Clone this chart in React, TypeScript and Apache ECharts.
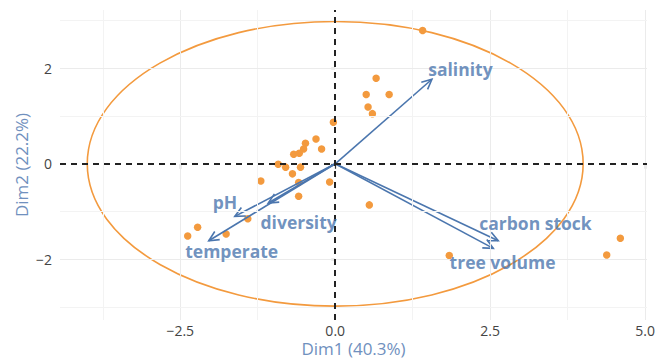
import React, { useEffect, useRef } from "react";
import * as echarts from "echarts";

// Axis ticks and grid positions
const xTicks = [-2.5, 0, 2.5, 5];
const yTicks = [-2, 0, 2];
const xMinorGrid = [-3.75, -1.25, 1.25, 3.75];
const yMinorGrid = [-3, -1, 1, 3];

// Individuals (PCA scores)
const indX = [
  -0.03, -0.31, -0.22, -0.48, -0.51, -0.58, -0.67, -0.92, -0.8, -0.56, -0.69, -1.2, -0.59, -0.09, -0.59,
  0.66, 0.5, 0.87, 0.53, 0.6, 1.41, -1.41, -1.76, -2.22, -2.38, 1.84, 4.38, 4.6, 0.55,
];
const indY = [
  0.87, 0.52, 0.31, 0.43, 0.31, 0.22, 0.2, -0.01, -0.07, -0.07, -0.21, -0.36, -0.39, -0.38, -0.68,
  1.79, 1.45, 1.45, 1.19, 1.05, 2.79, -1.15, -1.47, -1.33, -1.51, -1.92, -1.91, -1.56, -0.86,
];

// Variables (scaled loadings) and their label positions
const variables = ["salinity", "pH", "diversity", "temperate", "carbon stock", "tree volume"];
const arrowX = [1.56, -1.62, -1.08, -2.04, 2.63, 2.55];
const arrowY = [1.77, -1.1, -0.82, -1.61, -1.61, -1.77];
const labelX = [2.02, -1.78, -0.59, -1.67, 3.23, 2.7];
const labelY = [1.99, -0.79, -1.21, -1.82, -1.23, -2.05];

// Concentration ellipse: centre and semi-axes
const ellipseCenter = [0, 0];
const ellipseRadii = [4.0, 2.98];

const ORANGE = "#F39A3E";
const BLUE = "#4B76AE";
const TITLE = "#7090BE";

const fmtMinus = (s: string) => s.replace("-", "\u2212");

export default function App() {
  const ref = useRef<HTMLDivElement>(null);

  useEffect(() => {
    if (!ref.current) return;
    const chart = echarts.init(ref.current, undefined, { renderer: "svg" });

    const gridLines = [
      ...xTicks.filter((v) => v !== 0).map((v) => ({ xAxis: v, lineStyle: { color: "#ebebeb" } })),
      ...xMinorGrid.map((v) => ({ xAxis: v, lineStyle: { color: "#f3f3f3" } })),
      ...yTicks.filter((v) => v !== 0).map((v) => ({ yAxis: v, lineStyle: { color: "#ebebeb" } })),
      ...yMinorGrid.map((v) => ({ yAxis: v, lineStyle: { color: "#f3f3f3" } })),
    ];

    chart.setOption({
      animation: false,
      grid: { left: 60, right: 20, top: 10, bottom: 40, outerBoundsMode: "none", containLabel: false },
      xAxis: {
        type: "value",
        min: -4.44,
        max: 5.03,
        name: "Dim1 (40.3%)",
        nameLocation: "middle",
        nameGap: 20,
        nameMoveOverlap: false,
        nameTextStyle: { color: TITLE, fontSize: 17, fontFamily: "Open Sans" },
        axisLine: { show: false },
        splitLine: { show: false },
        axisTick: {
          show: true,
          customValues: xTicks,
          length: 5,
          lineStyle: { color: "#333", width: 1.2 },
        },
        axisLabel: {
          customValues: xTicks,
          margin: 3,
          color: "#444",
          fontSize: 14,
          fontFamily: "Open Sans",
          formatter: (v: number) => fmtMinus(v.toFixed(1)),
        },
      },
      yAxis: {
        type: "value",
        min: -3.27,
        max: 3.22,
        name: "Dim2 (22.2%)",
        nameLocation: "middle",
        nameGap: 30,
        nameMoveOverlap: false,
        nameTextStyle: { color: TITLE, fontSize: 17, fontFamily: "Open Sans" },
        axisLine: { show: false },
        splitLine: { show: false },
        axisTick: {
          show: true,
          customValues: yTicks,
          length: 4,
          lineStyle: { color: "#333", width: 1.2 },
        },
        axisLabel: {
          customValues: yTicks,
          margin: 8,
          color: "#444",
          fontSize: 14,
          fontFamily: "Open Sans",
          formatter: (v: number) => fmtMinus(String(v)),
        },
      },
      series: [
        {
          // background grid
          type: "line",
          data: [],
          silent: true,
          z: 0,
          markLine: {
            silent: true,
            symbol: "none",
            label: { show: false },
            lineStyle: { type: "solid", width: 1 },
            data: gridLines,
          },
        },
        {
          // dashed origin lines
          type: "line",
          data: [],
          silent: true,
          z: 1,
          markLine: {
            silent: true,
            symbol: "none",
            label: { show: false },
            lineStyle: { type: [6, 5], width: 2, color: "#222" },
            data: [{ xAxis: 0 }, { yAxis: 0 }],
          },
        },
        {
          type: "custom",
          silent: true,
          z: 2,
          data: [[ellipseCenter[0], ellipseCenter[1], ellipseRadii[0], ellipseRadii[1]]],
          renderItem: (_params: any, api: any) => {
            const c = api.coord([api.value(0), api.value(1)]);
            const s = api.size([api.value(2), api.value(3)]);
            return {
              type: "ellipse",
              shape: { cx: c[0], cy: c[1], rx: s[0], ry: s[1] },
              style: { fill: "none", stroke: ORANGE, lineWidth: 1.6 },
            };
          },
        },
        {
          type: "scatter",
          silent: true,
          z: 3,
          symbolSize: 7.5,
          itemStyle: { color: ORANGE, opacity: 1 },
          data: indX.map((x, i) => [x, indY[i]]),
        },
        {
          type: "custom",
          silent: true,
          z: 4,
          data: variables.map((_, i) => [0, 0, arrowX[i], arrowY[i]]),
          encode: { x: [0, 2], y: [1, 3] },
          renderItem: (_params: any, api: any) => {
            const p0 = api.coord([api.value(0), api.value(1)]);
            const p1 = api.coord([api.value(2), api.value(3)]);
            const a = Math.atan2(p1[1] - p0[1], p1[0] - p0[0]);
            const len = 11;
            const spread = Math.PI / 7;
            const h1 = [p1[0] - len * Math.cos(a - spread), p1[1] - len * Math.sin(a - spread)];
            const h2 = [p1[0] - len * Math.cos(a + spread), p1[1] - len * Math.sin(a + spread)];
            const style = { stroke: BLUE, lineWidth: 1.6, fill: "none" };
            return {
              type: "group",
              children: [
                { type: "line", shape: { x1: p0[0], y1: p0[1], x2: p1[0], y2: p1[1] }, style },
                { type: "polyline", shape: { points: [h1, p1, h2] }, style },
              ],
            };
          },
        },
        {
          type: "scatter",
          silent: true,
          z: 5,
          symbolSize: 0,
          data: variables.map((name, i) => ({ name, value: [labelX[i], labelY[i]] })),
          label: {
            show: true,
            position: "inside",
            formatter: "{b}",
            color: BLUE,
            fontSize: 17.5,
            fontWeight: "bold",
            fontFamily: "Open Sans",
          },
        },
      ],
    });

    return () => chart.dispose();
  }, []);

  return (
    <div
      ref={ref}
      style={{ position: "absolute", left: 0, top: 0, width: 667, height: 360 }}
    />
  );
}
